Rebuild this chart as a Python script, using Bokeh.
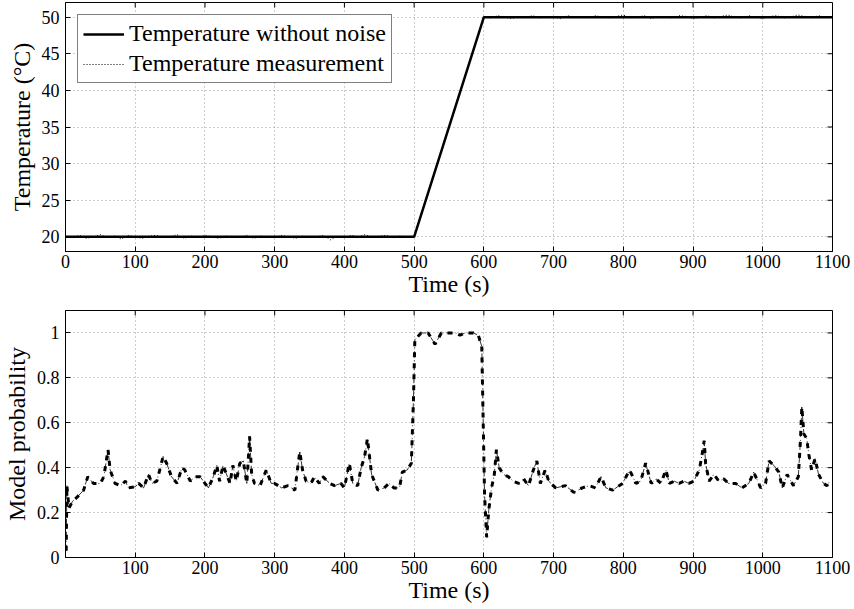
from bokeh.plotting import figure
from bokeh.models import FixedTicker, Range1d, Legend, LegendItem
from bokeh.layouts import column
from bokeh.embed import file_html
from bokeh.resources import INLINE

# ---------------- data ----------------
t_true = [0, 500, 600, 1100]
temp_true = [20, 20, 50, 50]

t_meas = list(range(0, 1101, 10))
temp_meas = [
    20.1, 19.9, 20.2, 19.8, 20.0, 20.3, 19.9, 20.1, 19.7, 20.2,
    20.0, 19.8, 20.1, 20.2, 19.9, 20.0, 20.3, 19.8, 20.1, 19.9,
    20.2, 20.0, 19.8, 20.1, 20.0, 19.9, 20.2, 19.8, 20.1, 20.0,
    19.9, 20.2, 20.0, 19.8, 20.1, 19.9, 20.0, 20.2, 19.6, 20.1,
    19.9, 20.2, 20.0, 20.3, 19.9, 20.1, 20.2, 19.9, 20.1, 20.0,
    20.1, 23.1, 25.9, 29.1, 31.9, 35.0, 38.1, 40.9, 44.1, 46.9, 50.1,
    49.9, 50.2, 50.0, 49.8, 50.1, 50.0, 50.2, 49.9, 50.1, 50.0,
    49.8, 50.2, 50.0, 50.1, 49.9, 50.2, 50.0, 49.9, 50.1, 50.3,
    49.9, 50.0, 50.2, 49.8, 50.1, 50.0, 49.9, 50.2, 50.1, 49.8,
    50.0, 50.2, 49.9, 50.1, 50.3, 50.0, 49.9, 50.2, 50.0, 49.8,
    50.1, 50.2, 49.9, 50.0, 50.3, 50.1, 49.9, 50.2, 50.0, 50.1,
]

t_prob = [
    1, 2, 5, 10, 17, 26, 32, 40, 50, 55,
    61, 64, 71, 79, 86, 90, 100, 105, 112, 119,
    124, 131, 136, 140, 145, 152, 160, 167, 171, 179,
    186, 193, 200, 205, 212, 217, 221, 226, 236, 240,
    245, 250, 255, 260, 263, 264, 267, 271, 279, 288,
    295, 300, 310, 319, 329, 333, 336, 340, 345, 352,
    357, 364, 369, 379, 386, 395, 400, 407, 412, 419,
    424, 429, 433, 436, 439, 448, 457, 464, 471, 479,
    483, 490, 496, 499, 501, 510, 520, 530, 539, 559,
    566, 573, 585, 592, 597, 599, 601, 604, 607, 611,
    615, 618, 622, 628, 635, 642, 650, 657, 664, 671,
    676, 681, 688, 693, 703, 717, 729, 741, 751, 760,
    768, 775, 785, 794, 799, 809, 818, 825, 832, 840,
    847, 854, 861, 866, 873, 880, 887, 894, 901, 909,
    913, 916, 918, 923, 930, 937, 944, 951, 961, 970,
    980, 987, 997, 1004, 1009, 1016, 1023, 1028, 1035, 1044,
    1051, 1054, 1056, 1059, 1063, 1066, 1070, 1075, 1080, 1087,
    1092, 1096,
]
prob = [
    0.03, 0.32, 0.22, 0.25, 0.27, 0.30, 0.36, 0.33, 0.33, 0.36,
    0.48, 0.39, 0.33, 0.32, 0.34, 0.31, 0.315, 0.33, 0.31, 0.37,
    0.33, 0.34, 0.40, 0.45, 0.42, 0.36, 0.33, 0.40, 0.39, 0.34,
    0.36, 0.36, 0.33, 0.31, 0.36, 0.41, 0.34, 0.41, 0.33, 0.41,
    0.34, 0.42, 0.43, 0.33, 0.48, 0.54, 0.37, 0.33, 0.32, 0.39,
    0.33, 0.33, 0.31, 0.32, 0.30, 0.40, 0.47, 0.39, 0.34, 0.33,
    0.36, 0.33, 0.36, 0.33, 0.32, 0.33, 0.31, 0.42, 0.33, 0.32,
    0.40, 0.45, 0.53, 0.45, 0.37, 0.30, 0.31, 0.33, 0.31, 0.31,
    0.38, 0.39, 0.42, 0.70, 0.97, 1.0, 1.0, 0.95, 1.0, 1.0,
    0.99, 1.0, 1.0, 0.99, 0.94, 0.61, 0.28, 0.09, 0.21, 0.31,
    0.37, 0.48, 0.40, 0.37, 0.36, 0.34, 0.33, 0.35, 0.32, 0.39,
    0.43, 0.33, 0.39, 0.34, 0.31, 0.32, 0.29, 0.31, 0.32, 0.31,
    0.36, 0.31, 0.30, 0.32, 0.33, 0.39, 0.33, 0.34, 0.42, 0.33,
    0.35, 0.33, 0.39, 0.33, 0.34, 0.33, 0.34, 0.33, 0.34, 0.39,
    0.46, 0.52, 0.42, 0.34, 0.37, 0.34, 0.35, 0.33, 0.33, 0.31,
    0.33, 0.38, 0.31, 0.33, 0.43, 0.41, 0.38, 0.31, 0.37, 0.32,
    0.36, 0.52, 0.67, 0.55, 0.53, 0.46, 0.39, 0.44, 0.37, 0.33,
    0.32, 0.34,
]

xticks_top = [0, 100, 200, 300, 400, 500, 600, 700, 800, 900, 1000, 1100]
yticks_top = [20, 25, 30, 35, 40, 45, 50]
xticks_bot = [100, 200, 300, 400, 500, 600, 700, 800, 900, 1000, 1100]
yticks_bot = [0, 0.2, 0.4, 0.6, 0.8, 1]
ytick_labels_bot = ["0", "0.2", "0.4", "0.6", "0.8", "1"]

FONT = "Liberation Serif"
TICK_FS = "18px"
LABEL_FS = "24px"
TICK_LEN = 5  # px


def style(p, xticks, yticks, xr, yr, plot_w, plot_h):
    p.background_fill_color = "white"
    p.border_fill_color = "white"
    p.outline_line_color = "black"
    p.outline_line_width = 1
    for ax in p.xaxis:
        ax.ticker = FixedTicker(ticks=xticks)
    for ax in p.yaxis:
        ax.ticker = FixedTicker(ticks=yticks)
    for ax in list(p.xaxis) + list(p.yaxis):
        ax.major_tick_in = TICK_LEN
        ax.major_tick_out = 0
        ax.minor_tick_in = 0
        ax.minor_tick_out = 0
        ax.axis_line_color = "black"
        ax.major_tick_line_color = "black"
        ax.major_label_text_font = FONT
        ax.major_label_text_font_size = TICK_FS
        ax.major_label_text_color = "black"
        ax.axis_label_text_font = FONT
        ax.axis_label_text_font_size = LABEL_FS
        ax.axis_label_text_font_style = "normal"
        ax.axis_label_text_color = "black"
    p.xaxis.major_label_standoff = 3
    p.xaxis.axis_label_standoff = 0
    p.yaxis.major_label_standoff = 6
    p.yaxis.axis_label_standoff = 4
    for g in [p.xgrid[0], p.ygrid[0]]:
        g.grid_line_color = "#9a9a9a"
        g.grid_line_dash = "1 3"
        g.grid_line_width = 1
    # mirrored inward ticks on top and right edges of the box
    dy = (yr[1] - yr[0]) * TICK_LEN / plot_h
    dx = (xr[1] - xr[0]) * TICK_LEN / plot_w
    p.segment(x0=xticks, x1=xticks, y0=[yr[1]] * len(xticks), y1=[yr[1] - dy] * len(xticks),
              line_color="black", line_width=1)
    p.segment(x0=[xr[1]] * len(yticks), x1=[xr[1] - dx] * len(yticks), y0=yticks, y1=yticks,
              line_color="black", line_width=1)


PLOT_W = 769

# ---------------- top panel ----------------
xr1, yr1 = (0, 1100), (18, 52)
p1 = figure(width=854, height=305, output_backend="svg", toolbar_location=None,
            x_range=Range1d(*xr1), y_range=Range1d(*yr1),
            min_border_left=63, min_border_right=22, min_border_top=2, min_border_bottom=54)
p1.xaxis.axis_label = "Time (s)"
p1.yaxis.axis_label = "Temperature (°C)"
style(p1, xticks_top, yticks_top, xr1, yr1, PLOT_W, 249)

r_true = p1.line(t_true, temp_true, line_color="black", line_width=2.5)
r_meas = p1.line(t_meas, temp_meas, line_color="black", line_width=1, line_dash="1 2")

legend = Legend(items=[LegendItem(label="Temperature without noise", renderers=[r_true]),
                       LegendItem(label="Temperature measurement", renderers=[r_meas])],
                location="top_left")
legend.label_text_font = FONT
legend.label_text_font_size = "24px"
legend.label_text_color = "black"
legend.border_line_color = "black"
legend.border_line_width = 1
legend.background_fill_color = "white"
legend.background_fill_alpha = 1
legend.margin = 12
legend.padding = 5
legend.spacing = 3
legend.glyph_width = 41
legend.glyph_height = 26
legend.label_height = 26
legend.label_standoff = 5
p1.add_layout(legend, "center")

# ---------------- bottom panel ----------------
xr2, yr2 = (0, 1100), (0, 1.1)
p2 = figure(width=854, height=304, output_backend="svg", toolbar_location=None,
            x_range=Range1d(*xr2), y_range=Range1d(*yr2),
            min_border_left=63, min_border_right=22, min_border_top=5, min_border_bottom=52)
p2.xaxis.axis_label = "Time (s)"
p2.yaxis.axis_label = "Model probability"
style(p2, xticks_bot, yticks_bot, xr2, yr2, PLOT_W, 247)
p2.yaxis[0].major_label_overrides = {v: s for v, s in zip(yticks_bot, ytick_labels_bot)}

p2.line(t_prob, prob, line_color="black", line_width=0.8, line_dash="6 3 1 3")
p2.line(t_prob, prob, line_color="black", line_width=3, line_dash="5 6")

layout = column(p1, p2, spacing=0)
open("out.html", "w").write(file_html(layout, INLINE))
